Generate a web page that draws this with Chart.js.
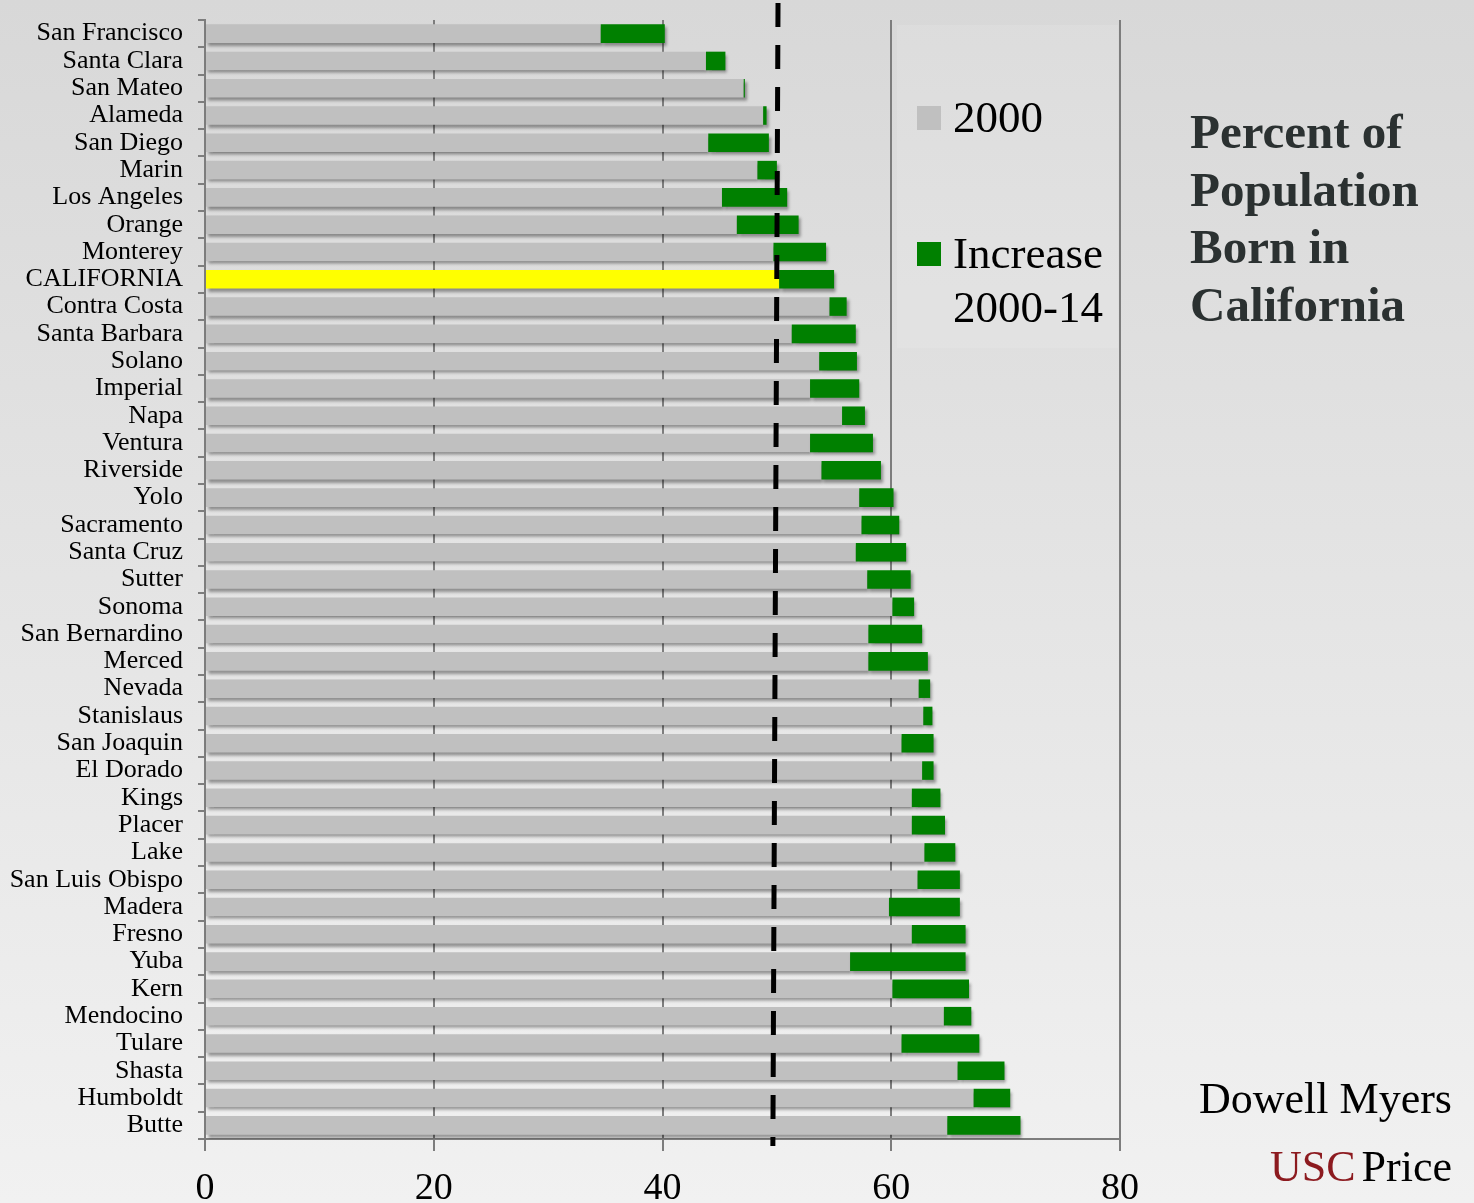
<!DOCTYPE html>
<html>
<head>
<meta charset="utf-8">
<script src="https://cdn.jsdelivr.net/npm/chart.js@4/dist/chart.umd.min.js"></script>
<style>
html,body{margin:0;padding:0;}
body{width:1474px;height:1203px;position:relative;overflow:hidden;font-family:"Liberation Serif",serif;background:#e5e5e5;}
canvas{position:absolute;left:0;top:0;}
.t{position:absolute;white-space:nowrap;color:#000;font-family:"Liberation Serif",serif;}
.sw{position:absolute;width:24px;height:24px;}
</style>
</head>
<body>
<canvas id="c" width="1474" height="1203"></canvas>

<div class="sw" style="left:917px;top:106px;background:#c0c0c0;"></div>
<div class="t" style="left:953px;top:95px;font-size:45px;line-height:45px;">2000</div>
<div class="sw" style="left:917px;top:242px;background:#008000;"></div>
<div class="t" style="left:953px;top:231px;font-size:45px;line-height:45px;">Increase</div>
<div class="t" style="left:953px;top:285px;font-size:45px;line-height:45px;">2000-14</div>

<div class="t" style="left:1190px;top:103px;font-size:49px;line-height:57.5px;font-weight:bold;color:#2b3131;">Percent of<br>Population<br>Born in<br>California</div>

<div class="t" style="right:22px;top:1077px;font-size:44px;line-height:44px;">Dowell Myers</div>
<div class="t" style="right:22px;top:1145px;font-size:44px;line-height:44px;"><span style="color:#8c1a1f;">USC</span><span style="margin-left:6px;">Price</span></div>

<script>
const counties = [
  'San Francisco','Santa Clara','San Mateo','Alameda','San Diego','Marin','Los Angeles','Orange','Monterey','CALIFORNIA',
  'Contra Costa','Santa Barbara','Solano','Imperial','Napa','Ventura','Riverside','Yolo','Sacramento','Santa Cruz',
  'Sutter','Sonoma','San Bernardino','Merced','Nevada','Stanislaus','San Joaquin','El Dorado','Kings','Placer',
  'Lake','San Luis Obispo','Madera','Fresno','Yuba','Kern','Mendocino','Tulare','Shasta','Humboldt','Butte'
];
const share2000 = [
  34.6, 43.8, 47.1, 48.8, 44.0, 48.3, 45.2, 46.5, 49.7, 50.2,
  54.6, 51.3, 53.7, 52.9, 55.7, 52.9, 53.9, 57.2, 57.4, 56.9,
  57.9, 60.1, 58.0, 58.0, 62.4, 62.8, 60.9, 62.7, 61.8, 61.8,
  62.9, 62.3, 59.8, 61.8, 56.4, 60.1, 64.6, 60.9, 65.8, 67.2, 64.9
];
const share2014 = [
  40.2, 45.5, 47.2, 49.1, 49.3, 50.0, 50.9, 51.9, 54.3, 55.0,
  56.1, 56.9, 57.0, 57.2, 57.7, 58.4, 59.1, 60.2, 60.7, 61.3,
  61.7, 62.0, 62.7, 63.2, 63.4, 63.6, 63.7, 63.7, 64.3, 64.7,
  65.6, 66.0, 66.0, 66.5, 66.5, 66.8, 67.0, 67.7, 69.9, 70.4, 71.3
];
const highlightCounty = 'CALIFORNIA';
const xTicks = [0, 20, 40, 60, 80];
const referenceLine = [50.1, 49.65]; // value at top, value at bottom of dashed line

const FONT = '"Liberation Serif", serif';

const backgroundPlugin = {
  id: 'bg',
  beforeDraw(chart) {
    const ctx = chart.ctx;
    const g = ctx.createLinearGradient(0, 0, 0, chart.height);
    g.addColorStop(0, '#d8d8d8');
    g.addColorStop(1, '#f1f1f1');
    ctx.save();
    ctx.fillStyle = g;
    ctx.fillRect(0, 0, chart.width, chart.height);
    ctx.fillStyle = 'rgba(255,255,255,0.12)';
    ctx.fillRect(897, 25, 221, 323);
    ctx.restore();
  }
};

const shadowPlugin = {
  id: 'shadow',
  beforeDatasetsDraw(chart) {
    const ctx = chart.ctx;
    ctx.save();
    ctx.shadowColor = 'rgba(0,0,0,0.38)';
    ctx.shadowBlur = 3;
    ctx.shadowOffsetX = 2;
    ctx.shadowOffsetY = 3;
  },
  afterDatasetsDraw(chart) {
    chart.ctx.restore();
  }
};

const dashPlugin = {
  id: 'dash',
  afterDatasetsDraw(chart) {
    const x = chart.scales.x;
    const ctx = chart.ctx;
    ctx.save();
    ctx.strokeStyle = '#000';
    ctx.lineWidth = 5;
    ctx.setLineDash([24, 18]);
    ctx.beginPath();
    ctx.moveTo(x.getPixelForValue(referenceLine[0]), 3);
    ctx.lineTo(x.getPixelForValue(referenceLine[1]), 1146);
    ctx.stroke();
    ctx.restore();
  }
};

new Chart(document.getElementById('c'), {
  type: 'bar',
  data: {
    labels: counties,
    datasets: [
      {
        label: 'Increase 2000-14',
        data: share2000.map((v, i) => [v, share2014[i]]),
        backgroundColor: '#008000',
        borderWidth: 0,
        order: 0,
        grouped: false,
        barPercentage: 0.68,
        categoryPercentage: 1
      },
      {
        label: '2000',
        data: share2000,
        backgroundColor: counties.map(c => c === highlightCounty ? '#ffff00' : '#c0c0c0'),
        borderWidth: 0,
        order: 1,
        grouped: false,
        barPercentage: 0.68,
        categoryPercentage: 1
      }
    ]
  },
  options: {
    responsive: false,
    animation: false,
    indexAxis: 'y',
    layout: { padding: { top: 20, right: 354, left: 0, bottom: 0 } },
    plugins: { legend: { display: false }, tooltip: { enabled: false } },
    scales: {
      x: {
        min: 0, max: 80,
        afterBuildTicks: s => { s.ticks = xTicks.map(v => ({ value: v })); },
        afterFit: s => { s.height = 64; s.paddingLeft = 0; s.paddingRight = 0; },
        grid: { color: '#7d7d7d', lineWidth: 2, tickLength: 12, tickColor: '#7d7d7d' },
        border: { color: '#7d7d7d', width: 2 },
        ticks: { font: { family: FONT, size: 38 }, color: '#000', padding: 15, maxRotation: 0 }
      },
      y: {
        afterFit: s => { s.width = 205; s.paddingTop = 0; s.paddingBottom = 0; },
        grid: { offset: true, drawOnChartArea: false, tickLength: 7, color: '#7d7d7d', lineWidth: 2 },
        border: { color: '#7d7d7d', width: 2 },
        ticks: { autoSkip: false, font: { family: FONT, size: 26 }, color: '#000', padding: 15 }
      }
    }
  },
  plugins: [backgroundPlugin, shadowPlugin, dashPlugin]
});
</script>
</body>
</html>
